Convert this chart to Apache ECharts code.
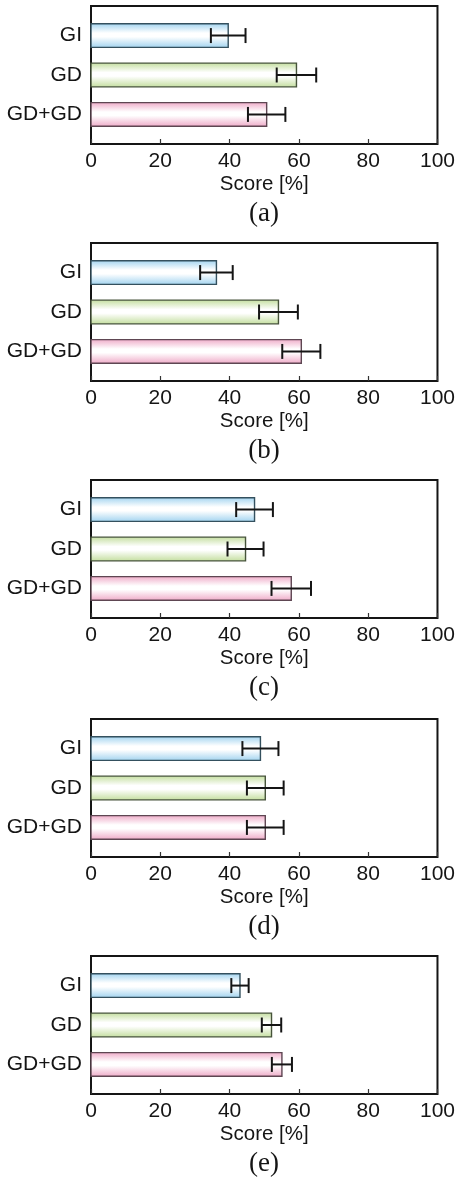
<!DOCTYPE html>
<html>
<head>
<meta charset="utf-8">
<script src="https://cdn.jsdelivr.net/npm/echarts@6/dist/echarts.min.js"></script>
<style>
html,body{margin:0;padding:0;background:#fff;}
#c{width:458px;height:1179px;}
</style>
</head>
<body>
<div id="c"></div>
<script>
// ---- data ----
const categories = ['GI', 'GD', 'GD+GD'];
const panelLabels = ['(a)', '(b)', '(c)', '(d)', '(e)'];
const xTicks = [0, 20, 40, 60, 80, 100];
const axisTitle = 'Score [%]';

const scoreA = [39.6, 59.3, 50.7];
const errA   = [5.0, 5.7, 5.4];
const scoreB = [36.2, 54.1, 60.7];
const errB   = [4.7, 5.6, 5.5];
const scoreC = [47.2, 44.6, 57.8];
const errC   = [5.3, 5.2, 5.7];
const scoreD = [48.9, 50.3, 50.3];
const errD   = [5.2, 5.3, 5.3];
const scoreE = [43.0, 52.1, 55.1];
const errE   = [2.5, 2.8, 2.9];

const panels = [
  [scoreA, errA], [scoreB, errB], [scoreC, errC], [scoreD, errD], [scoreE, errE]
];

// ---- style ----
const gridTops = [6, 243, 480, 719, 956];
const gridLeft = 91, gridWidth = 350, gridHeight = 138;
const sans = '"Liberation Sans", Arial, Helvetica, sans-serif';
const serif = '"Liberation Serif", "Times New Roman", serif';
const barStyles = [
  { c: '#9fd2ef', stroke: '#34505e' },
  { c: '#c2dd9c', stroke: '#46533a' },
  { c: '#eea8c6', stroke: '#5e4652' }
];

function grad(c) {
  return {
    type: 'linear', x: 0, y: 0, x2: 0, y2: 1,
    colorStops: [
      { offset: 0, color: c },
      { offset: 0.4, color: '#ffffff' },
      { offset: 0.55, color: '#ffffff' },
      { offset: 1, color: c }
    ]
  };
}

const grid = [], xAxis = [], yAxis = [], series = [], graphic = [];

panels.forEach((p, i) => {
  const [scores, errs] = p;
  grid.push({
    left: gridLeft, top: gridTops[i], width: gridWidth, height: gridHeight,
    show: true, borderColor: '#151515', borderWidth: 2, backgroundColor: '#fff'
  });
  xAxis.push({
    gridIndex: i, type: 'value', min: xTicks[0], max: xTicks[xTicks.length - 1], interval: 20,
    axisLine: { show: false },
    axisTick: { show: true, inside: true, length: 5, lineStyle: { color: '#333', width: 1.2 } },
    splitLine: { show: false },
    axisLabel: { fontFamily: sans, fontSize: 21, color: '#151515', margin: 7,
      formatter: v => String(v) },
    name: axisTitle, nameLocation: 'middle', nameGap: 30,
    nameTextStyle: { fontFamily: sans, fontSize: 20.5, color: '#151515' }
  });
  yAxis.push({
    gridIndex: i, type: 'value', inverse: true, min: 0.25, max: 3.75,
    axisLine: { show: false }, axisTick: { show: false }, splitLine: { show: false },
    axisLabel: {
      customValues: categories.map((c, k) => k + 1),
      formatter: v => categories[Math.round(v) - 1] || '',
      fontFamily: sans, fontSize: 21, color: '#151515', margin: 9
    }
  });
  const data = scores.map((v, k) => [v, k + 1, errs[k], k]);
  series.push({
    type: 'custom', xAxisIndex: i, yAxisIndex: i, data: data,
    encode: { x: 0, y: 1 },
    renderItem: (params, api) => {
      const v = api.value(0), y = api.value(1), k = api.value(3);
      const p0 = api.coord([0, y]);
      const p1 = api.coord([v, y]);
      const h = api.size([0, 0.6])[1];
      const st = barStyles[k];
      return {
        type: 'rect',
        shape: { x: p0[0], y: p0[1] - h / 2, width: p1[0] - p0[0], height: h },
        style: { fill: grad(st.c), stroke: st.stroke, lineWidth: 1.4 }
      };
    },
    z: 2
  });
  series.push({
    type: 'custom', xAxisIndex: i, yAxisIndex: i, data: data,
    encode: { x: 0, y: 1 },
    renderItem: (params, api) => {
      const v = api.value(0), y = api.value(1), e = api.value(2);
      const a = api.coord([v - e, y]);
      const b = api.coord([v + e, y]);
      const cap = api.size([0, 0.38])[1] / 2;
      const ls = { stroke: '#151515', lineWidth: 2 };
      return {
        type: 'group',
        children: [
          { type: 'line', shape: { x1: a[0], y1: a[1], x2: b[0], y2: b[1] }, style: ls },
          { type: 'line', shape: { x1: a[0], y1: a[1] - cap, x2: a[0], y2: a[1] + cap }, style: ls },
          { type: 'line', shape: { x1: b[0], y1: b[1] - cap, x2: b[0], y2: b[1] + cap }, style: ls }
        ]
      };
    },
    z: 3
  });
  graphic.push({
    type: 'text', x: gridLeft + gridWidth / 2 - 2, y: gridTops[i] + gridHeight + 70,
    style: { text: panelLabels[i], fontFamily: serif, fontSize: 27, fill: '#151515',
      align: 'center', verticalAlign: 'middle' }
  });
});

const chart = echarts.init(document.getElementById('c'), null, { renderer: 'canvas' });
chart.setOption({
  animation: false,
  backgroundColor: '#fff',
  grid, xAxis, yAxis, series, graphic
});
</script>
</body>
</html>
